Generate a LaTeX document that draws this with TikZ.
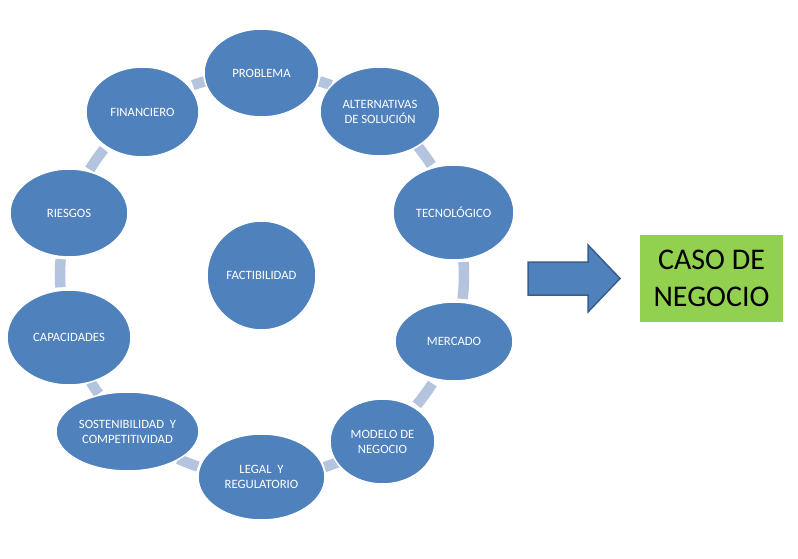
\documentclass[tikz,border=0pt]{standalone}
\usepackage{fontspec}
\setmainfont{Carlito}
\usetikzlibrary{shapes.geometric}
\definecolor{ellblue}{HTML}{4F81BD}
\definecolor{arcblue}{HTML}{B4C3DE}
\definecolor{arrowedge}{HTML}{385D8A}
\definecolor{boxgreen}{HTML}{92D050}
\tikzset{
  ell/.style={ellipse, fill=ellblue, draw=white, line width=1.5pt, inner sep=0pt,
    text=white, align=center, font=\fontsize{12.7}{15}\selectfont},
  ring/.style={arcblue, line width=10.5pt},
}
\begin{document}
\begin{tikzpicture}[x=1pt,y=1pt]
\useasboundingbox (0,0) rectangle (798,558);
\coordinate (c) at (262,283);
% ring segments
\foreach \a/\b in {70/73.5, 106.5/110, 141.5/148.5, 175.5/183.5, 212/216, 245.5/251.5, 288/292, 320/327.5, -6.8/3.7, 33/39.5}{
  \draw[ring] (c) ++(\a:202) arc[start angle=\a, end angle=\b, radius=202];
}
\node[ell, minimum width=115, minimum height=88] (prob) at (261.5,485) {PROBLEMA};
\node[ell, minimum width=120, minimum height=89] (alt) at (380,446.5) {ALTERNATIVAS\\DE SOLUCIÓN};
\node[ell, minimum width=121, minimum height=95] (tec) at (453.5,345.5) {TECNOLÓGICO};
\node[ell, minimum width=118, minimum height=79] (mer) at (454,216.5) {MERCADO};
\node[ell, minimum width=105, minimum height=85] (mod) at (382.5,116.5) {MODELO DE\\NEGOCIO};
\node[ell, minimum width=127, minimum height=86] (leg) at (261.5,81) {LEGAL\ \ Y\\REGULATORIO};
\node[ell, minimum width=143, minimum height=79] (sos) at (127.5,126.5) {SOSTENIBILIDAD\ \ Y\\COMPETITIVIDAD};
\node[ell, minimum width=124, minimum height=95] (cap) at (69,220.5) {CAPACIDADES};
\node[ell, minimum width=118, minimum height=88] (rie) at (69,345) {RIESGOS};
\node[ell, minimum width=113, minimum height=90] (fin) at (142.5,446) {FINANCIERO};
\node[ell, minimum width=109, minimum height=109] (fac) at (261.5,282.5) {FACTIBILIDAD};
% arrow
\draw[fill=ellblue, draw=arrowedge, line width=1.5pt, line join=miter]
  (528,296) -- (588,296) -- (588,313) -- (620,279.5) -- (588,246) -- (588,263) -- (528,263) -- cycle;
% result box
\node[fill=boxgreen, minimum width=143, minimum height=87, inner sep=0pt, align=center,
  font=\fontsize{30}{37}\selectfont] (caso) at (711.5,279.5) {CASO DE\\NEGOCIO};
\end{tikzpicture}
\end{document}
